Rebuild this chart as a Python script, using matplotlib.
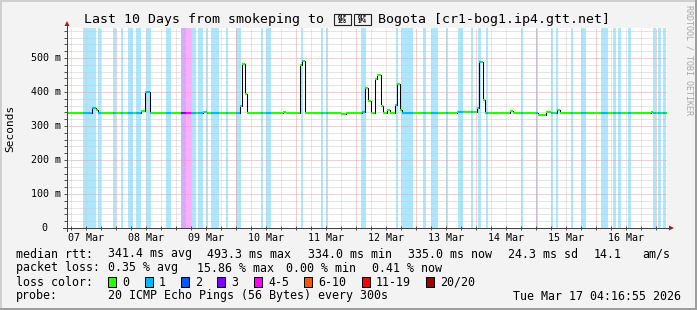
import datetime as dt
import matplotlib
matplotlib.use('Agg')
import matplotlib.pyplot as plt
from matplotlib.lines import Line2D
from matplotlib.patches import Rectangle, Polygon
import numpy as np

# --- data (hours after start, milliseconds) ---
start = dt.datetime(2026, 3, 7, 4, 16, 55)
span_hours = 240

med_hours = [0, 10.0, 11.6, 12.4, 29.6, 31.2, 33.3, 54.4, 56.0, 69.2, 70.0, 71.2,
             72.0, 86.4, 87.6, 93.2, 94.0, 95.2, 109.6, 111.6, 118.0, 119.2, 120.4, 121.6,
             123.2, 124.0, 125.4, 126.4, 128.0, 129.3, 131.2, 132.0, 133.3, 134.0, 156.0, 164.0,
             164.8, 166.3, 167.3, 177.2, 178.4, 188.4, 191.6, 193.6, 196.0, 197.3, 233.6, 234.4]
med_ms = [337, 352, 346, 337, 345, 400, 337, 341, 337, 359, 482, 395,
          337, 341, 337, 478, 492, 337, 334, 337, 341, 413, 372, 337,
          439, 450, 359, 337, 348, 337, 362, 424, 348, 337, 341, 352,
          488, 375, 337, 345, 337, 333, 341, 337, 348, 337, 341, 337]

# periods with lost pings: start hour, end hour, loss class index
loss_start = [6.4, 12.4, 18.4, 21.6, 24.4, 27.6, 31.6, 39.6, 45.6, 47.6, 49.6, 52.4,
              55.6, 57.6, 63.6, 67.6, 77.6, 79.6, 93.6, 101.6, 103.6, 117.6, 131.6, 133.6,
              142.4, 145.6, 151.6, 156.4, 161.6, 164.4, 167.6, 181.6, 187.6, 193.6, 195.6, 201.6,
              205.6, 213.6, 218.4, 220.4, 224.4, 234.4, 236.4, 238.4]
loss_end = [11.6, 13.5, 19.6, 22.5, 26.4, 29.6, 33.6, 41.6, 47.6, 49.6, 51.6, 54.4,
            56.4, 60.8, 64.4, 69.6, 78.4, 81.6, 94.4, 102.4, 104.4, 119.6, 132.4, 138.4,
            143.6, 148.4, 152.4, 158.4, 162.4, 165.6, 168.4, 182.4, 188.4, 194.4, 196.4, 202.4,
            207.6, 216.4, 219.6, 221.6, 225.6, 235.6, 237.6, 239.6]
loss_level = [1, 1, 1, 1, 1, 1, 1, 1, 3, 4, 1, 1,
              1, 1, 1, 1, 1, 1, 1, 1, 1, 1, 1, 1,
              1, 1, 1, 1, 1, 1, 1, 1, 1, 1, 1, 1,
              1, 1, 1, 1, 1, 1, 1, 1]

loss_labels = ['0', '1', '2', '3', '4-5', '6-10', '11-19', '20/20']
loss_colors = ['#26ff00', '#00b8ff', '#0059ff', '#7e00ff', '#ff00ff', '#ff5500', '#ff0000', '#a10000']

y_major = [0, 100, 200, 300, 400, 500]
y_top = 588

title_left = 'Last 10 Days from smokeping to'
# flag characters U+1F1E8 U+1F1F4: no installed font has them, the reference shows hex boxes
title_flag_codes = [0x1F1E8, 0x1F1F4]
title_right = 'Bogota [cr1-bog1.ip4.gtt.net]'

rtt_stats = ['341.4 ms avg', '493.3 ms max', '334.0 ms min', '335.0 ms now', '24.3 ms sd', '14.1', 'am/s']
loss_stats = ['0.35 % avg', '15.86 % max', '0.00 % min', '0.41 % now']
probe_text = '20 ICMP Echo Pings (56 Bytes) every 300s'
stamp_text = 'Tue Mar 17 04:16:55 2026'

W, H = 697, 310
plt.rcParams['font.family'] = ['DejaVu Sans Mono', 'DejaVu Sans']
plt.rcParams['lines.scale_dashes'] = False


def fx(x):
    return x / W


def fy(y):
    return 1 - y / H


def loss_at(h):
    for s, e, n in zip(loss_start, loss_end, loss_level):
        if s <= h < e:
            return n
    return 0


def main():
    fig = plt.figure(figsize=(W / 100, H / 100), dpi=100, facecolor='#f3f3f3')
    # 3d-ish frame like rrdtool
    fig.patches.append(Rectangle((0, fy(2)), 1, 2 / H, transform=fig.transFigure, color='#cfcfcf', lw=0))
    fig.patches.append(Rectangle((0, 0), 2 / W, 1, transform=fig.transFigure, color='#cfcfcf', lw=0))
    fig.patches.append(Rectangle((0, 0), 1, 2 / H, transform=fig.transFigure, color='#9e9e9e', lw=0))
    fig.patches.append(Rectangle((fx(W - 2), 0), 2 / W, 1, transform=fig.transFigure, color='#9e9e9e', lw=0))

    ax = fig.add_axes([fx(67), fy(228), 600 / W, 200 / H])
    ax.set_facecolor('white')
    for sp in ax.spines.values():
        sp.set_visible(False)
    ax.set_xlim(0, span_hours)
    ax.set_ylim(0, y_top)

    # loss bands
    for s, e, n in zip(loss_start, loss_end, loss_level):
        ax.axvspan(s, e, color=loss_colors[n], alpha=0.33, lw=0, zorder=0)

    # grid
    dots = (0, (0.72, 0.72))
    for y in range(20, y_top, 20):
        if y % 100:
            ax.axhline(y, color='#cccccc', lw=0.72, ls=dots, zorder=1)
    for y in y_major[1:]:
        ax.axhline(y, color='#eaa0a0', lw=0.72, ls=dots, zorder=1)
    first_midnight = (dt.datetime(2026, 3, 8) - start).total_seconds() / 3600.0
    six = np.arange(first_midnight - 18, span_hours, 6)
    six = six[six > 0]
    for h in six:
        is_mid = abs((h - first_midnight) % 24) < 1e-6
        ax.axvline(h, color='#eaa0a0' if is_mid else '#cccccc', lw=0.72, ls=dots, zorder=1)

    # median rtt: black connectors and loss coloured steps
    t = np.array(med_hours)
    v = np.array(med_ms)
    t_ext = np.append(t, span_hours)
    ax.step(t_ext, np.append(v, v[-1]), where='post', color='black', lw=0.75, zorder=3)
    cuts = np.unique(np.concatenate([t_ext, loss_start, loss_end]))
    cuts = cuts[(cuts >= 0) & (cuts <= span_hours)]
    for a, b in zip(cuts[:-1], cuts[1:]):
        val = v[np.searchsorted(t, a, side='right') - 1]
        ax.hlines(val, a, b, color=loss_colors[loss_at((a + b) / 2)], lw=1.5, zorder=4)

    # ticks
    ax.set_yticks(y_major)
    ax.set_yticks(range(0, y_top, 20), minor=True)
    ax.set_xticks(six[np.abs((six - first_midnight) % 24) < 1e-6])
    ax.set_xticks(six, minor=True)
    ax.tick_params(axis='y', which='both', direction='out', length=2.2, width=0.72, color='#555555',
                   labelleft=False)
    ax.tick_params(axis='x', which='both', direction='inout', length=2.9, width=0.72, color='#555555',
                   labelbottom=False)

    ytr = ax.get_yaxis_transform()
    for val in y_major:
        label = '0' if val == 0 else '{} m'.format(val)
        right = 47 if val == 0 else 61
        ax.text((right - 67) / 600.0, val, label, transform=ytr, ha='right', va='center', fontsize=7.2)
    xtr = ax.get_xaxis_transform()
    for d in range(10):
        noon = start.replace(hour=12, minute=0, second=0) + dt.timedelta(days=d)
        h = (noon - start).total_seconds() / 3600.0
        ax.text(h, -(238 - 228) / 200.0, noon.strftime('%d %b'), transform=xtr, ha='center',
                va='center', fontsize=7.2)

    # axis lines with arrows
    fig.add_artist(Line2D([fx(67), fx(67)], [fy(231), fy(25)], transform=fig.transFigure,
                          color='#404040', lw=0.72))
    fig.add_artist(Line2D([fx(63), fx(670)], [fy(228), fy(228)], transform=fig.transFigure,
                          color='#404040', lw=0.72))
    fig.add_artist(Polygon([(fx(64.5), fy(26)), (fx(69.5), fy(26)), (fx(67), fy(21))], closed=True,
                           transform=fig.transFigure, color='#a02020', lw=0))
    fig.add_artist(Polygon([(fx(669), fy(225.5)), (fx(669), fy(230.5)), (fx(674), fy(228))], closed=True,
                           transform=fig.transFigure, color='#a02020', lw=0))

    # titles
    fig.text(fx(84), fy(19), title_left, fontsize=9.5, ha='left', va='center')
    bx = 334
    for code in title_flag_codes:
        hexcode = '{:06X}'.format(code)
        fig.patches.append(Rectangle((fx(bx), fy(25)), 17 / W, 11 / H, transform=fig.transFigure,
                                     facecolor='none', edgecolor='#222222', lw=0.8))
        fig.text(fx(bx + 8.5), fy(19.5), hexcode[:3] + '\n' + hexcode[3:], fontsize=3.6,
                 ha='center', va='center', linespacing=0.95, fontweight='bold')
        bx += 20
    fig.text(fx(378), fy(19), title_right, fontsize=9.5, ha='left', va='center')
    fig.text(fx(10), fy(128), 'Seconds', fontsize=8, rotation=90, ha='center', va='center')
    fig.text(fx(689), fy(60), 'RRDTOOL / TOBI OETIKER', fontsize=6, rotation=270, ha='center',
             va='center', color='#a8a8a8')

    # legend
    lfs = 8.4
    fig.text(fx(16), fy(254), 'median rtt:', fontsize=lfs, va='center')
    for s, x in zip(rtt_stats, [107.6, 207.1, 307.6, 408, 507.6, 593.3, 642.2]):
        fig.text(fx(x), fy(254), s, fontsize=lfs, va='center')
    fig.text(fx(16), fy(268), 'packet loss:', fontsize=lfs, va='center')
    for s, x in zip(loss_stats, [107.6, 196.9, 286.2, 371.6]):
        fig.text(fx(x), fy(268), s, fontsize=lfs, va='center')
    fig.text(fx(16), fy(282), 'loss color:', fontsize=lfs, va='center')
    x = 108.4
    for lab, col in zip(loss_labels, loss_colors):
        fig.patches.append(Rectangle((fx(x), fy(287)), 8 / W, 10 / H, transform=fig.transFigure,
                                     facecolor=col, edgecolor='black', lw=0.72))
        fig.text(fx(x + 14.3), fy(282), lab, fontsize=lfs, va='center')
        x = x + 14.3 + len(lab) * 7.04 + 15
    fig.text(fx(16), fy(296), 'probe:', fontsize=lfs, va='center')
    fig.text(fx(107.6), fy(296), probe_text, fontsize=lfs, va='center')
    fig.text(fx(681), fy(296), stamp_text, fontsize=lfs, va='center', ha='right')

    fig.savefig('out.png', dpi=100, facecolor=fig.get_facecolor())


if __name__ == '__main__':
    main()
